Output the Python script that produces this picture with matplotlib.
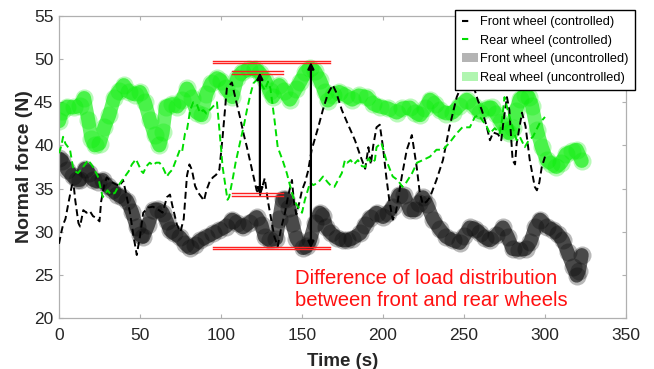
import matplotlib
matplotlib.use("Agg")
import matplotlib.pyplot as plt
from matplotlib.lines import Line2D
from matplotlib.patches import Patch

plt.rcParams['font.family'] = ['Liberation Sans', 'DejaVu Sans']

# ---- data ----
rear_unc_t = [0, 2, 5, 9, 13, 15.5, 18, 20, 22, 25, 28, 31, 34, 37, 40, 43, 47, 50, 53, 56, 59, 62, 64, 66,
              70, 73, 76, 79, 82, 85, 88, 91, 94, 97.5, 100, 103, 107, 110, 113, 117, 121, 124, 127, 130, 132,
              136, 139, 142.5, 146, 149, 152, 155, 158, 161, 164, 166, 169, 173, 177, 181, 185, 190, 194, 198,
              203, 208.5, 212, 216.6, 220, 223, 226, 229, 232, 235, 239, 243, 247, 251.7, 256, 260, 264, 267,
              270, 273, 276, 278, 280, 282, 284.5, 287.5, 290, 292, 295, 298, 301, 304, 307, 310, 313, 316.5,
              319.6, 322.7]
rear_unc_y = [42.8, 44.0, 44.5, 44.4, 44.6, 45.5, 43.0, 40.8, 40.0, 40.2, 42.1, 43.5, 45.5, 46.3, 47.0, 46.2,
              45.9, 46.2, 45.0, 43.0, 41.2, 40.0, 41.5, 44.5, 44.8, 44.5, 45.3, 46.6, 45.5, 43.8, 43.5, 46.0,
              47.2, 47.8, 47.5, 46.6, 45.6, 47.8, 48.5, 48.8, 48.9, 48.4, 47.6, 46.3, 45.6, 47.0, 46.3, 45.3,
              46.5, 47.4, 48.5, 49.0, 48.6, 47.6, 46.2, 45.2, 45.9, 46.2, 45.8, 45.3, 45.8, 45.6, 44.8, 44.5,
              44.3, 43.8, 44.3, 44.4, 43.8, 43.5, 44.3, 45.3, 44.8, 44.1, 43.7, 43.8, 44.6, 45.3, 44.6, 43.8,
              44.3, 44.4, 43.6, 42.7, 41.8, 41.4, 42.0, 44.0, 45.4, 45.8, 45.6, 44.6, 41.8, 39.8, 38.3, 37.9,
              37.5, 38.0, 39.0, 39.3, 39.5, 38.2]

front_unc_t = [0, 2, 5, 8.6, 11, 13, 16, 18.5, 21, 24, 27, 30, 33, 36, 39, 42, 45, 48, 50, 52, 55, 58, 61, 64,
               66.5, 68.5, 71, 74.6, 78, 81, 84, 87, 91, 95, 99, 103, 107, 110, 113.5, 117, 122, 125, 127, 130,
               134, 136, 138, 140, 142, 144, 146.6, 150.6, 153, 155, 158, 161, 163, 165, 168, 171.5, 175, 177.7,
               181, 186, 189, 192, 196, 200, 203, 206, 210, 213, 216.6, 220, 222, 224.6, 227, 231, 235, 239, 243,
               247.5, 250, 253.6, 257, 260, 263, 266, 270, 274, 277, 280, 284, 288, 291, 294, 297, 301, 305, 308,
               311, 314, 317.5, 319.6, 321, 322.7]
front_unc_y = [38.5, 38.2, 37.2, 36.4, 36.0, 36.0, 37.3, 36.8, 36.0, 35.8, 36.0, 35.3, 34.8, 34.3, 34.0, 33.6,
               32.3, 30.5, 29.6, 29.4, 30.8, 32.5, 32.6, 32.2, 31.2, 30.2, 29.8, 29.4, 28.6, 28.1, 28.5, 29.0,
               29.4, 29.8, 30.2, 30.6, 31.4, 31.0, 30.5, 31.0, 31.7, 30.8, 29.4, 29.0, 29.2, 31.5, 33.8, 33.8,
               32.8, 31.0, 29.2, 28.1, 28.3, 29.0, 31.0, 32.2, 31.8, 30.5, 29.8, 29.3, 29.0, 29.0, 29.2, 29.8,
               30.8, 31.6, 32.2, 31.7, 32.2, 32.9, 34.3, 34.2, 32.5, 32.5, 33.3, 34.0, 33.2, 31.4, 30.3, 29.4,
               29.0, 28.7, 29.5, 30.5, 30.3, 29.8, 29.3, 29.0, 29.6, 30.5, 29.4, 28.0, 27.9, 28.0, 28.8, 30.5,
               31.4, 30.6, 30.2, 29.7, 29.0, 27.6, 25.9, 24.9, 25.5, 27.3]

front_ctl_t = [0, 1.5, 2.5, 4, 6, 8, 9, 10, 12, 13, 15, 17, 19, 21, 23, 25, 26, 28, 29.5, 32, 35, 37.6, 39.5,
               41, 43.8, 46, 48, 50, 52, 55, 58, 61, 64, 66.6, 68.5, 70, 72.8, 75, 77, 79, 80.5, 82, 84, 86, 88,
               89.5, 91, 93, 95, 97, 99, 101, 103.6, 106.7, 109, 111.7, 114, 116, 119, 122, 124, 127, 129, 131,
               133, 135, 137, 139.5, 141.5, 143.8, 145, 146.5, 148.5, 150, 152, 153.7, 156, 158, 160, 163, 166,
               169, 171, 174.6, 178, 182.7, 186, 189, 191, 192.5, 194, 196, 198, 200, 202, 204, 206, 208, 211.6,
               214.7, 217.8, 220.8, 222.7, 224.6, 227, 229, 233, 237, 241, 245.5, 248.6, 251, 254, 258.6, 261,
               264, 266, 268, 271, 273, 274.5, 276.5, 278, 280, 281.5, 282.5, 285.8, 288, 290.6, 293.7, 295,
               296.5, 298, 300]
front_ctl_y = [28.6, 30.0, 30.8, 31.5, 33.5, 35.4, 35.5, 33.7, 31.0, 30.6, 32.5, 32.2, 32.4, 31.8, 31.6, 31.2,
               33.5, 35.5, 36.3, 35.8, 35.5, 35.3, 36.0, 34.8, 32.2, 29.5, 27.3, 29.5, 32.2, 32.8, 32.9, 32.6,
               32.2, 34.0, 34.3, 33.0, 30.8, 30.0, 31.5, 36.5, 37.8, 37.2, 35.3, 34.5, 34.0, 33.6, 34.8, 35.8,
               36.3, 36.6, 37.2, 41.0, 46.6, 47.3, 45.4, 43.3, 41.3, 39.8, 37.3, 34.8, 34.2, 36.2, 33.5, 31.4,
               29.4, 28.3, 30.3, 32.2, 34.2, 36.0, 33.5, 32.0, 33.5, 34.8, 35.8, 37.0, 39.5, 40.8, 42.1, 44.2,
               46.0, 47.0, 46.2, 44.1, 42.6, 40.6, 38.8, 37.3, 39.8, 37.8, 40.0, 42.1, 42.4, 39.8, 36.4, 33.5,
               31.4, 32.3, 36.4, 39.5, 41.2, 37.5, 34.5, 33.2, 33.5, 34.0, 36.0, 38.3, 42.1, 45.6, 47.0, 48.3,
               48.0, 45.2, 44.1, 42.2, 40.6, 41.5, 41.3, 40.6, 43.0, 45.6, 44.1, 38.3, 37.8, 40.2, 43.8, 42.2,
               38.3, 35.2, 34.8, 35.7, 37.5, 38.7]

rear_ctl_t = [0, 1.5, 2.5, 4, 6.8, 8.6, 10, 11.7, 14.5, 16, 18, 21, 24, 27, 30, 32, 34.5, 37.6, 40.7, 43, 45,
              47.5, 49, 51, 52, 54, 56, 58, 60, 62, 64, 66.6, 68, 70, 72, 74.6, 76, 77.8, 79, 81, 82.8, 85, 87,
              89, 91, 93, 95, 97.5, 99.4, 101, 104, 105, 107.5, 109, 111.7, 114, 116, 118, 120, 122, 124, 127,
              129, 130.5, 133, 135, 138, 140.6, 143.8, 145.5, 147.5, 150, 151.8, 155, 157, 160, 163, 166, 168,
              170, 172, 174.6, 176.5, 178, 180, 182, 184.5, 187, 189, 191, 193, 195, 196, 199, 202, 206, 209,
              212, 214, 218, 221, 224.6, 229, 233, 237, 241, 245.5, 249, 253.6, 256.7, 259, 261, 264, 266, 269,
              272, 273.5, 275, 277, 280, 282.5, 284.5, 287.5, 290, 292.5, 296.8, 300]
rear_ctl_y = [39.1, 40.0, 41.0, 40.2, 39.5, 37.5, 37.0, 36.8, 37.4, 37.8, 38.3, 37.5, 36.4, 34.0, 34.8, 34.3,
              34.5, 35.6, 36.4, 37.0, 37.8, 38.4, 37.8, 37.0, 36.8, 37.6, 38.0, 37.7, 38.0, 38.0, 37.5, 36.4,
              36.8, 37.2, 38.2, 39.5, 39.3, 41.4, 41.8, 44.1, 45.0, 44.8, 43.8, 44.1, 43.7, 44.1, 44.5, 45.0,
              41.0, 37.5, 33.7, 34.0, 36.4, 38.0, 40.3, 42.2, 44.1, 45.8, 47.2, 47.6, 47.4, 46.4, 47.4, 46.6,
              43.0, 39.8, 38.3, 36.8, 34.5, 33.5, 32.9, 32.2, 33.7, 35.7, 35.4, 35.7, 36.4, 35.7, 35.3, 35.2,
              35.9, 36.8, 38.3, 38.0, 38.3, 37.8, 38.3, 37.6, 37.5, 38.5, 38.0, 38.3, 39.8, 40.3, 38.3, 36.4,
              36.0, 35.2, 35.6, 36.8, 38.0, 38.3, 38.7, 39.5, 39.5, 40.3, 41.4, 42.1, 42.1, 43.3, 43.5, 43.0,
              42.2, 41.4, 42.0, 41.4, 43.0, 45.6, 44.1, 42.1, 40.6, 41.0, 39.8, 40.6, 41.0, 42.6, 43.3]

labels = ['Front wheel (controlled)', 'Rear wheel (controlled)',
          'Front wheel (uncontrolled)', 'Real wheel (uncontrolled)']

# annotation levels (N) and time spans (s)
ref_levels = [49.65, 48.45, 34.3, 28.1]
ref_spans = [(95, 167), (107, 138), (107, 138), (95, 167)]
arrow_t = [124, 155.5]
arrow_range = [(48.45, 34.3), (49.65, 28.1)]
note_text = 'Difference of load distribution\nbetween front and rear wheels'

# ---- figure ----
fig = plt.figure(figsize=(6.54, 3.69), dpi=100)
ax = fig.add_axes([59/654, 1-318/369, (626-59)/654, (318-16)/369])

green = '#00ee00'
for t, y, c in ((front_unc_t, front_unc_y, 'black'), (rear_unc_t, rear_unc_y, green)):
    ax.plot(t, y, '-', color=c, lw=10, alpha=0.6, solid_capstyle='round',
            solid_joinstyle='round', zorder=2)
    ax.plot(t, y, 'o', color=c, ms=13, mew=0, alpha=0.28, zorder=2)
ax.plot(front_ctl_t, front_ctl_y, color='black', lw=1.4, ls=(0, (3.6, 2.0)), zorder=3)
ax.plot(rear_ctl_t, rear_ctl_y, color='#00dd00', lw=1.4, ls=(0, (3.6, 2.0)), zorder=3)

for lev, (a, b) in zip(ref_levels, ref_spans):
    for d in (-0.14, 0.14):
        ax.plot([a, b], [lev + d, lev + d], color='#ff2020', lw=1.0, zorder=4)

for x, (y0, y1) in zip(arrow_t, arrow_range):
    ax.annotate('', xy=(x, y1), xytext=(x, y0),
                arrowprops=dict(arrowstyle='<|-|>', color='black', lw=1.6,
                                mutation_scale=9, shrinkA=0, shrinkB=0), zorder=5)

ax.text(145.5, 23.3, note_text, color='#ff1010', fontsize=14.6, va='center', ha='left',
        linespacing=1.2, zorder=6)

ax.set_xlim(0, 350)
ax.set_ylim(20, 55)
ax.set_xticks([0, 50, 100, 150, 200, 250, 300, 350])
ax.set_yticks([20, 25, 30, 35, 40, 45, 50, 55])
ax.tick_params(direction='in', length=3, width=0.8, top=True, right=True,
               labelsize=12.5, colors='#b0b0b0', labelcolor='#262626')
ax.tick_params(axis='x', pad=7.5)
ax.tick_params(axis='y', pad=4)
for s in ax.spines.values():
    s.set_color('#b0b0b0')
    s.set_linewidth(0.9)
ax.set_xlabel('Time (s)', fontsize=13.5, fontweight='bold', color='#262626', labelpad=7)
ax.set_ylabel('Normal force (N)', fontsize=14, fontweight='bold', color='#262626', labelpad=0.5)

handles = [Line2D([], [], color='black', lw=1.5, ls=(0, (3, 20))),
           Line2D([], [], color='#00dd00', lw=1.5, ls=(0, (3, 20))),
           Patch(facecolor='#b4b4b4', edgecolor='none'),
           Patch(facecolor='#b0f5b0', edgecolor='none')]
leg = fig.legend(handles, labels, loc='upper right', bbox_to_anchor=(635/654, 1-10/369),
                 fontsize=9.2, frameon=True, fancybox=False, borderpad=0.5,
                 labelspacing=0.5, handlelength=1.3, handletextpad=0.15, borderaxespad=0)
leg.get_frame().set_edgecolor('black')
leg.get_frame().set_linewidth(1.0)
leg.get_frame().set_alpha(1)
leg.set_zorder(10)

fig.savefig('out.png', dpi=100)
